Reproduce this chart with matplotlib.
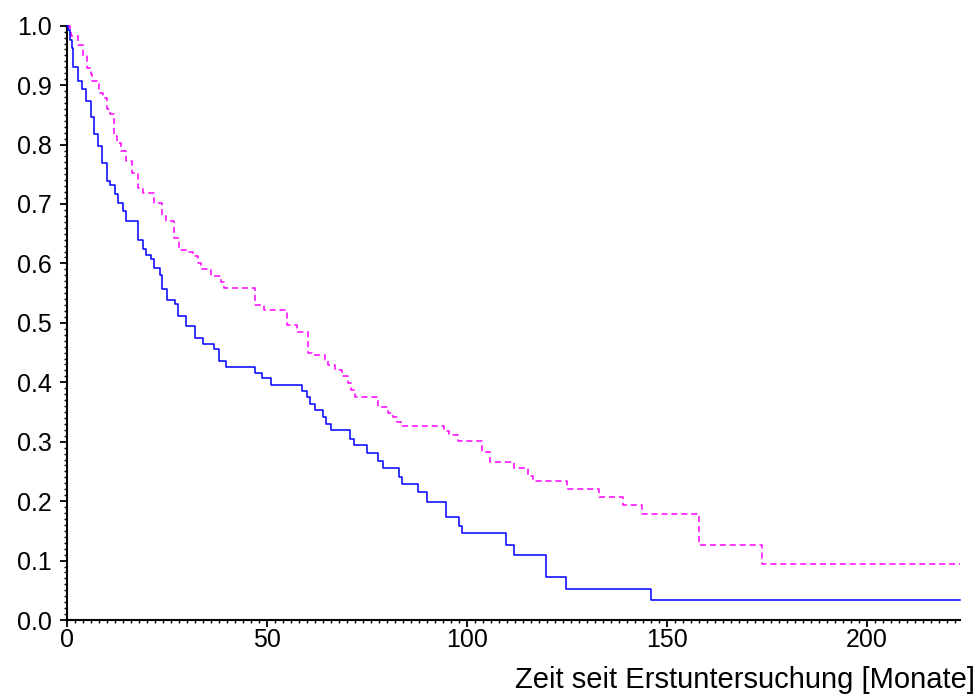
import matplotlib
matplotlib.use("Agg")
import matplotlib.pyplot as plt
from matplotlib.ticker import MultipleLocator, FormatStrFormatter

plt.rcParams['font.family'] = ['Liberation Sans', 'DejaVu Sans']

# Kaplan-Meier style step data (months, survival fraction)
blue_t = [0, 0.4, 0.8, 1.25, 1.65, 2.7, 3.8, 4.7, 6.0, 6.8, 7.9, 8.7, 10.0, 10.8, 12.0,
          12.7, 14.0, 14.7, 17.8, 19.1, 19.8, 21.1, 21.8, 23.2, 23.8, 25.0, 27.1, 27.7,
          29.8, 32.1, 34.0, 36.8, 38.0, 39.8, 47.1, 48.9, 51.0, 58.9, 60.0, 60.8, 62.1,
          64.0, 64.8, 66.1, 70.7, 71.9, 75.0, 77.8, 79.0, 83.0, 83.7, 87.8, 90.1, 94.8,
          98.0, 98.7, 109.8, 111.8, 119.9, 124.8, 146.0, 223.3]
blue_s = [1.0, 0.993, 0.976, 0.962, 0.931, 0.907, 0.894, 0.873, 0.847, 0.818, 0.798, 0.769,
          0.739, 0.732, 0.717, 0.702, 0.688, 0.672, 0.640, 0.624, 0.615, 0.607, 0.592, 0.581,
          0.557, 0.538, 0.531, 0.512, 0.494, 0.475, 0.465, 0.456, 0.436, 0.426, 0.416, 0.407,
          0.395, 0.385, 0.375, 0.364, 0.353, 0.342, 0.329, 0.319, 0.305, 0.295, 0.281, 0.268,
          0.255, 0.241, 0.228, 0.215, 0.199, 0.173, 0.159, 0.146, 0.127, 0.109, 0.072, 0.053,
          0.034, 0.034]

mag_t = [0, 0.7, 1.1, 2.8, 4.0, 5.0, 6.0, 6.3, 8.15, 9.1, 10.0, 10.8, 11.9, 12.6, 13.6,
         14.75, 16.25, 17.9, 19.1, 21.8, 23.8, 24.8, 26.7, 28.1, 30.6, 31.6, 32.8, 33.6,
         36.0, 38.6, 39.2, 47.0, 49.3, 55.1, 57.6, 60.3, 61.3, 64.6, 65.3, 67.1, 68.75, 70.3,
         71.1, 72.1, 77.9, 80.3, 81.6, 82.6, 83.5, 94.2, 95.6, 97.8, 103.8, 105.8, 111.8,
         115.3, 116.6, 125.0, 133.0, 139.1, 143.75, 158.0, 173.75, 223.3]
mag_s = [1.0, 0.991, 0.983, 0.968, 0.949, 0.929, 0.918, 0.907, 0.887, 0.879, 0.859, 0.851,
         0.814, 0.803, 0.79, 0.772, 0.752, 0.727, 0.719, 0.701, 0.679, 0.671, 0.643, 0.623,
         0.620, 0.613, 0.600, 0.590, 0.578, 0.569, 0.558, 0.530, 0.522, 0.497, 0.485, 0.449,
         0.446, 0.438, 0.429, 0.421, 0.410, 0.398, 0.387, 0.375, 0.359, 0.348, 0.342, 0.334,
         0.327, 0.318, 0.311, 0.302, 0.283, 0.266, 0.255, 0.242, 0.234, 0.220, 0.207, 0.194,
         0.178, 0.127, 0.095, 0.095]

x_label = "Zeit seit Erstuntersuchung [Monate]"

fig = plt.figure(figsize=(9.79, 6.95), dpi=100)
ax = fig.add_axes([66.7 / 979, 1 - 620 / 695, (960 - 66.7) / 979, (620 - 25.7) / 695])

ax.step(mag_t, mag_s, where='post', color='#ff00ff', lw=1.1,
        linestyle=(0, (4, 2.5)), clip_on=False, zorder=3)
ax.step(blue_t, blue_s, where='post', color='#0000ff', lw=1.1, clip_on=False, zorder=4)

ax.set_xlim(0, 223.3)
ax.set_ylim(0, 1.0)
for side in ('top', 'right'):
    ax.spines[side].set_visible(False)
for side in ('left', 'bottom'):
    ax.spines[side].set_linewidth(1.5)

ax.xaxis.set_major_locator(MultipleLocator(50))
ax.xaxis.set_minor_locator(MultipleLocator(2))
ax.yaxis.set_major_locator(MultipleLocator(0.1))
ax.yaxis.set_minor_locator(MultipleLocator(0.01))
ax.yaxis.set_major_formatter(FormatStrFormatter('%.1f'))

ax.tick_params(axis='both', which='major', direction='out', length=5, width=1.3,
               labelsize=18)
ax.tick_params(axis='both', which='minor', direction='out', length=2.5, width=1.0)
ax.tick_params(axis='x', which='major', pad=1)
ax.tick_params(axis='y', which='major', pad=6)

fig.text(975 / 979, 1 - 680 / 695, x_label, ha='right', va='center', fontsize=21)

fig.savefig('out.png', dpi=100)
